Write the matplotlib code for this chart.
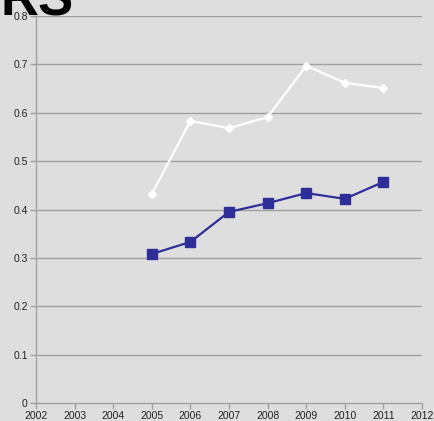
import matplotlib
matplotlib.use("Agg")
import matplotlib.pyplot as plt

years = [2005, 2006, 2007, 2008, 2009, 2010, 2011]
white_series = [0.432, 0.583, 0.568, 0.591, 0.697, 0.662, 0.651]
blue_series = [0.308, 0.333, 0.395, 0.413, 0.434, 0.422, 0.457]
x_ticks = list(range(2002, 2013))
y_ticks = [0, 0.1, 0.2, 0.3, 0.4, 0.5, 0.6, 0.7, 0.8]

BG = "#dedede"
GRID = "#a0a0a0"
BLUE = "#2e2e99"

plt.rcParams['font.family'] = ['Liberation Sans', 'DejaVu Sans']

fig = plt.figure(figsize=(4.34, 4.21), dpi=100, facecolor=BG)
ax = fig.add_axes([36 / 434, 1 - 403 / 421, (422 - 36) / 434, (403 - 16) / 421])
ax.set_facecolor(BG)

for y in y_ticks[1:]:
    ax.axhline(y, color=GRID, linewidth=1.0, zorder=1)

ax.plot(years, white_series, color="white", linewidth=1.6, marker="D",
        markersize=4.5, markerfacecolor="white", markeredgecolor="white", zorder=3)
ax.plot(years, blue_series, color=BLUE, linewidth=1.6, marker="s",
        markersize=6.5, markerfacecolor=BLUE, markeredgecolor=BLUE, zorder=3)

ax.set_xlim(2002, 2012)
ax.set_ylim(0, 0.8)
ax.set_xticks(x_ticks)
ax.set_xticklabels([str(t) for t in x_ticks], fontsize=7.5)
ax.set_yticks(y_ticks)
ax.set_yticklabels(["0", "0.1", "0.2", "0.3", "0.4", "0.5", "0.6", "0.7", "0.8"], fontsize=7.5)
ax.tick_params(axis="both", colors=GRID, labelcolor="#222222", length=4, width=1, pad=2)

for side in ["top", "right"]:
    ax.spines[side].set_visible(False)
for side in ["left", "bottom"]:
    ax.spines[side].set_color(GRID)
    ax.spines[side].set_linewidth(1)

# title is clipped at the top edge, as in the source image
fig.text(0.002, 1 - 15 / 421, "RS", fontsize=38, fontweight="bold",
         color="black", ha="left", va="baseline")

fig.savefig("out.png", dpi=100, facecolor=BG)
